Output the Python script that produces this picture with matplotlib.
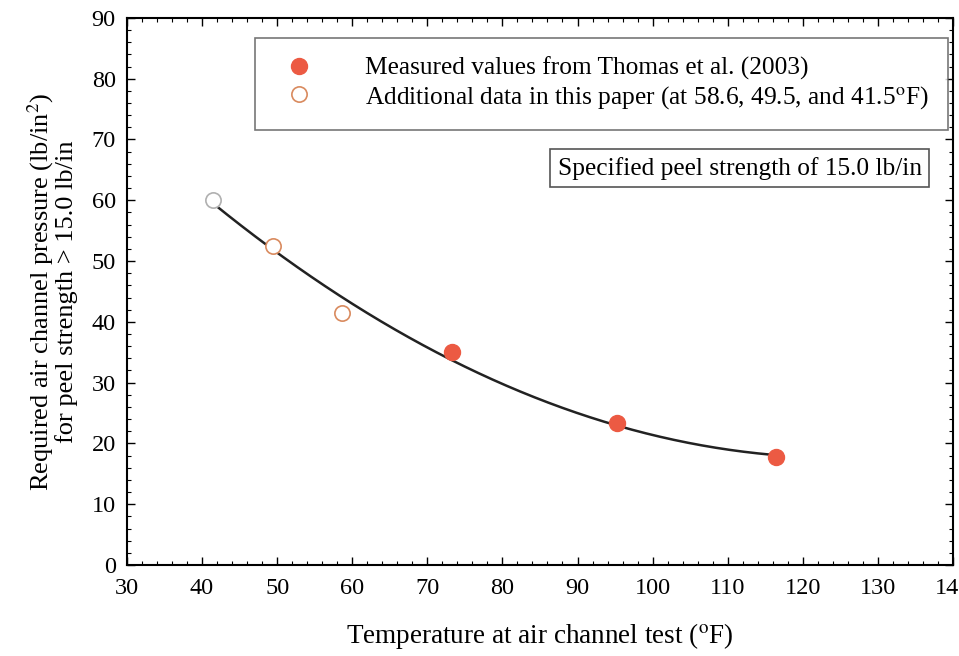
import numpy as np
import matplotlib.pyplot as plt
from matplotlib.ticker import MultipleLocator

plt.rcParams['font.family'] = ['Liberation Serif', 'DejaVu Serif']
plt.rcParams['mathtext.fontset'] = 'stix'

# values
measured_temp = [73.3, 95.2, 116.4]
measured_press = [35.0, 23.3, 17.8]
added_temp = [41.5, 49.5, 58.6]
added_press = [60.0, 52.5, 41.5]

fill_col = '#ec5a43'
open_col = '#d98a5e'

fig = plt.figure(figsize=(9.59, 6.56), dpi=100)
ax = fig.add_axes([0.1324, 0.1387, 0.8613, 0.834])

# trend curve through all data
t_all = np.array(added_temp + measured_temp)
p_all = np.array(added_press + measured_press)
coef = np.polyfit(t_all, p_all, 2)
tt = np.linspace(41.5, 115.5, 200)
ax.plot(tt, np.polyval(coef, tt), color='#222222', lw=1.8, zorder=2)

ax.plot(measured_temp, measured_press, 'o', ms=11.5, color=fill_col,
        mec=fill_col, zorder=3, label='Measured values from Thomas et al. (2003)')
ax.plot(added_temp[1:], added_press[1:], 'o', ms=11, mfc='white', mec=open_col,
        mew=1.2, zorder=3,
        label='Additional data in this paper (at 58.6, 49.5, and 41.5$^{\\mathrm{o}}$F)')
ax.plot(added_temp[:1], added_press[:1], 'o', ms=11, mfc='white', mec='#b0b0b0',
        mew=1.2, ls='none', zorder=3)

ax.set_xlim(30, 140)
ax.set_ylim(0, 90)
ax.xaxis.set_major_locator(MultipleLocator(10))
ax.xaxis.set_minor_locator(MultipleLocator(2))
ax.yaxis.set_major_locator(MultipleLocator(10))
ax.yaxis.set_minor_locator(MultipleLocator(2))
ax.tick_params(which='both', direction='in', top=True, right=True, labelsize=17.5)
ax.tick_params(which='major', length=6, width=1)
ax.tick_params(which='minor', length=3, width=0.8)
ax.tick_params(axis='x', pad=9)
ax.tick_params(axis='y', pad=8)
for s in ax.spines.values():
    s.set_linewidth(1.5)

ax.set_xlabel('Temperature at air channel test ($^{\\mathrm{o}}$F)', fontsize=19.5, labelpad=16)
ax.set_ylabel('Required air channel pressure (lb/in$^{2}$)\nfor peel strength > 15.0 lb/in',
              fontsize=19, labelpad=10, linespacing=0.95)

leg = ax.legend(loc='upper right', bbox_to_anchor=(0.994, 0.964), fontsize=18.3,
                frameon=True, fancybox=False, edgecolor='#555555', borderpad=0.75,
                handletextpad=1.6, labelspacing=0.15, borderaxespad=0)
leg.get_frame().set_linewidth(1.2)

ax.text(0.962, 0.725, 'Specified peel strength of 15.0 lb/in', transform=ax.transAxes,
        ha='right', va='center', fontsize=18.3,
        bbox=dict(boxstyle='square,pad=0.3', fc='white', ec='#555555', lw=1.2))

fig.savefig('out.png', dpi=100)
